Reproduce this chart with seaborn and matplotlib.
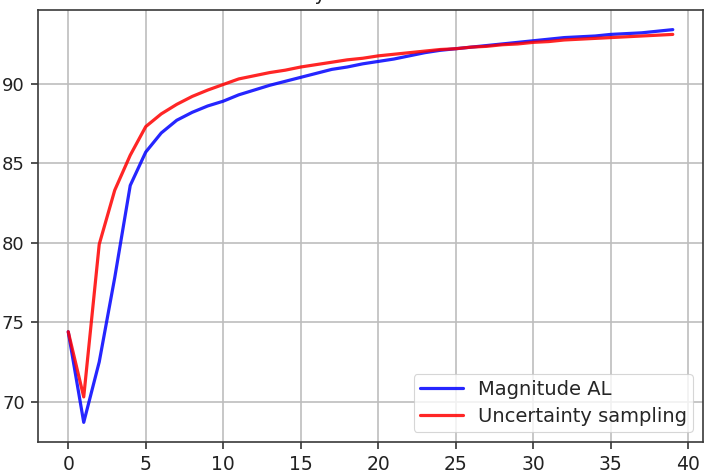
import matplotlib
matplotlib.use("Agg")
import matplotlib.pyplot as plt
import seaborn as sns
import pandas as pd
import numpy as np

rounds = list(range(40))
magnitude_al = [74.4, 68.7, 72.5, 77.8, 83.6, 85.7, 86.9, 87.7, 88.2, 88.6,
                88.9, 89.3, 89.6, 89.9, 90.15, 90.4, 90.65, 90.9, 91.05, 91.25,
                91.4, 91.55, 91.75, 91.95, 92.1, 92.2, 92.3, 92.4, 92.5, 92.6,
                92.7, 92.8, 92.9, 92.95, 93.0, 93.1, 93.15, 93.2, 93.3, 93.4]
uncertainty = [74.4, 70.3, 79.9, 83.3, 85.5, 87.3, 88.1, 88.7, 89.2, 89.6,
               89.95, 90.3, 90.5, 90.7, 90.85, 91.05, 91.2, 91.35, 91.5, 91.6,
               91.75, 91.85, 91.95, 92.05, 92.15, 92.2, 92.3, 92.35, 92.45, 92.5,
               92.6, 92.65, 92.75, 92.8, 92.85, 92.9, 92.95, 93.0, 93.05, 93.1]
series_names = ["Magnitude AL", "Uncertainty sampling"]
title_text = "Accuracy"

df = pd.DataFrame({
    "round": rounds * 2,
    "acc": magnitude_al + uncertainty,
    "method": [series_names[0]] * len(rounds) + [series_names[1]] * len(rounds),
})

sns.set_style("ticks")
plt.rcParams['font.family'] = ['DejaVu Sans']

W, H = 710, 476
fig = plt.figure(figsize=(W / 100, H / 100), dpi=100)
ax = fig.add_axes([38 / W, 1 - 442 / H, (703 - 38) / W, (442 - 10) / H])

sns.lineplot(data=df, x="round", y="acc", hue="method",
             palette={series_names[0]: "blue", series_names[1]: "red"},
             linewidth=2.3, alpha=0.85, ax=ax)

ax.set_xticks([0, 5, 10, 15, 20, 25, 30, 35, 40])
ax.set_yticks([70, 75, 80, 85, 90])
ax.set_xlabel("")
ax.set_ylabel("")
ax.grid(True, color="#bdbdbd", linewidth=1.2)
ax.set_axisbelow(True)
for s in ax.spines.values():
    s.set_visible(True)
    s.set_color("#3a3a3a")
    s.set_linewidth(1.2)
ax.tick_params(axis="both", labelsize=13, length=5, width=1.1, colors="#222222")
ax.tick_params(axis="y", pad=4.5)
ax.tick_params(axis="x", pad=4.5, labelsize=13.5)

leg = ax.legend(loc="lower right", fontsize=14, frameon=True, framealpha=0.8,
                edgecolor="#cccccc", handlelength=2.2, borderpad=0.32,
                labelspacing=0.4, borderaxespad=0.5)
leg.get_frame().set_linewidth(0.8)

fig.text(327 / W, 1.0, title_text, ha="right", va="baseline", fontsize=14, color="#222222")

fig.savefig("out.png", dpi=100)
